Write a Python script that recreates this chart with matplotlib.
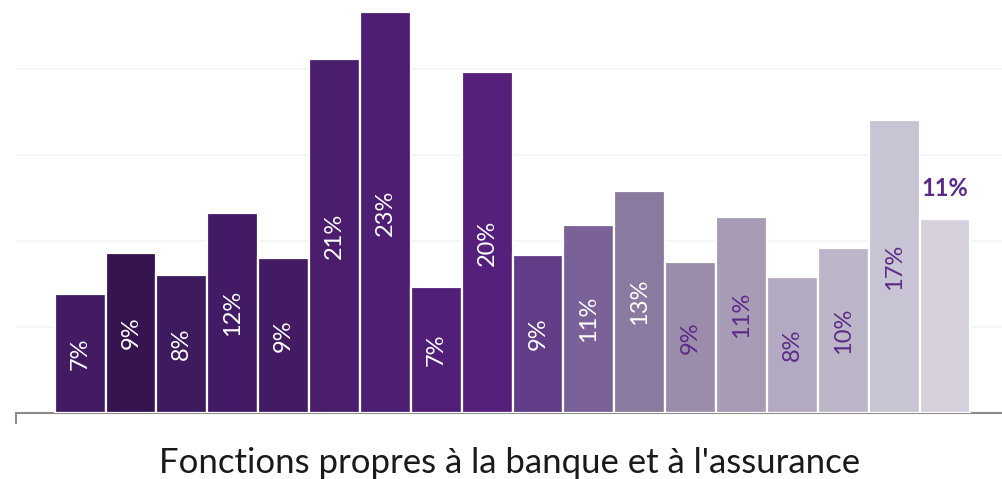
import matplotlib.pyplot as plt

# share of each function (%)
values = [6.9, 9.3, 8.0, 11.6, 9.0, 20.6, 23.3, 7.3, 19.8,
          9.2, 10.9, 12.9, 8.8, 11.4, 7.9, 9.6, 17.0, 11.3]
labels = ['7%', '9%', '8%', '12%', '9%', '21%', '23%', '7%', '20%',
          '9%', '11%', '13%', '9%', '11%', '8%', '10%', '17%', '11%']
bar_colors = ['#421b63', '#36144f', '#3e1a5f', '#431a66', '#421b63', '#4a1d6d',
              '#4e1e72', '#521f78', '#55207c', '#613c87', '#7a6299', '#8a7a9f',
              '#9c8cab', '#a79bb5', '#b3a9c2', '#bdb5c8', '#c9c4d4', '#d6d0dd']
label_colors = ['white'] * 12 + ['#5b2a86'] * 5
xlabel = "Fonctions propres à la banque et à l'assurance"

plt.rcParams['font.family'] = ['Lato', 'DejaVu Sans']

fig = plt.figure(figsize=(10.02, 4.79), dpi=100)
ax = fig.add_axes([16 / 1002, 1 - 413 / 479, 1 - 16 / 1002, 413 / 479])

x = list(range(len(values)))
ax.bar(x, values, width=1.0, color=bar_colors, edgecolor='white', linewidth=1.6, zorder=3)

for i, (v, lab) in enumerate(zip(values, labels)):
    if i < len(label_colors):
        ax.text(i, v / 2, lab, rotation=90, ha='center', va='center',
                fontsize=17, color=label_colors[i], zorder=4)
    else:
        # last bar: label sits above the bar, horizontal and bold
        ax.text(i, v + 1.1, lab, ha='center', va='bottom', fontsize=17,
                fontweight='bold', color='#5b2a86', zorder=4)

ax.set_ylim(0, 24)
x0 = -1.26
ax.set_xlim(x0, 18.12)
ax.set_yticks([5, 10, 15, 20])
ax.yaxis.grid(True, color='#f5f5f5', linewidth=1.2, zorder=0)
ax.tick_params(axis='y', left=False, labelleft=False)
ax.set_xticks([x0])
ax.set_xticklabels([''])
ax.tick_params(axis='x', direction='out', length=8, width=1.5, color='#8c8c8c')
for s in ['top', 'right', 'left']:
    ax.spines[s].set_visible(False)
ax.spines['bottom'].set_color('#8c8c8c')
ax.spines['bottom'].set_linewidth(1.5)

fig.text(510 / 1002, 1 - 463 / 479, xlabel, ha='center', va='center', fontsize=25, color='#1a1a1a')

fig.savefig('out.png', dpi=100)
